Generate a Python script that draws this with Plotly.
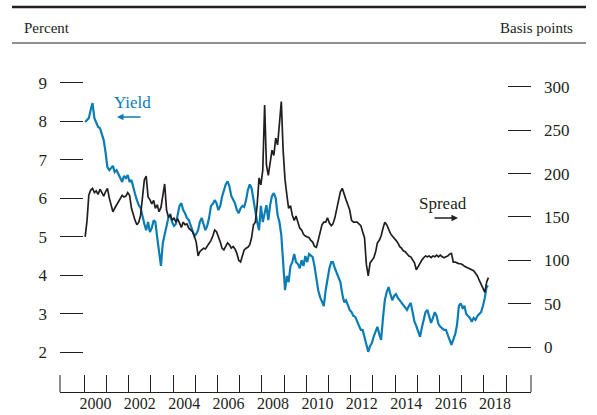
import pandas as pd
import plotly.graph_objects as go

# Monthly readings, January 2000 through March 2018
yield_pct = [
    7.98, 8.03, 8.08, 8.29, 8.47, 8.08, 7.98, 7.85, 7.82, 7.69, 7.51, 7.20,
    6.81, 6.73, 6.78, 6.84, 6.68, 6.73, 6.63, 6.52, 6.42, 6.58, 6.52, 6.60,
    6.42, 6.47, 6.26, 6.11, 5.95, 5.82, 5.75, 5.51, 5.33, 5.17, 5.38, 5.12,
    5.23, 5.43, 5.38, 4.97, 4.60, 4.24, 4.83, 5.07, 5.23, 5.49, 5.59, 5.38,
    5.28, 5.33, 5.56, 5.80, 5.87, 5.69, 5.61, 5.49, 5.43, 5.28, 5.17, 5.02,
    5.07, 5.17, 5.38, 5.49, 5.33, 5.17, 5.28, 5.49, 5.80, 5.85, 5.95, 5.87,
    5.69, 5.80, 6.03, 6.21, 6.36, 6.44, 6.31, 6.06, 5.95, 5.87, 5.69, 5.61,
    5.74, 5.80, 5.77, 5.95, 6.21, 6.36, 6.26, 5.95, 5.75, 5.38, 5.17, 5.80,
    5.38, 5.64, 5.82, 5.43, 5.82, 6.06, 6.13, 6.00, 5.56, 5.38, 5.04, 4.34,
    3.61, 3.98, 3.82, 4.24, 4.34, 4.55, 4.34, 4.29, 4.18, 4.39, 4.24, 4.50,
    4.34, 4.55, 4.50, 4.47, 4.24, 3.93, 3.61, 3.43, 3.30, 3.20, 3.61, 3.95,
    4.18, 4.34, 4.34, 4.18, 4.05, 3.93, 3.82, 3.51, 3.30, 3.35, 3.20, 3.10,
    3.04, 2.94, 2.92, 2.79, 2.68, 2.58, 2.58, 2.37, 2.16, 2.01, 2.16, 2.24,
    2.42, 2.58, 2.66, 2.47, 2.32, 2.89, 3.35, 3.56, 3.69, 3.51, 3.35, 3.46,
    3.51, 3.41, 3.35, 3.28, 3.20, 3.15, 3.10, 3.20, 3.28, 3.04, 2.79, 2.68,
    2.53, 2.40, 2.63, 2.89, 3.04, 3.10, 2.89, 2.76, 2.89, 3.04, 2.94, 2.73,
    2.66, 2.63, 2.58, 2.58, 2.47, 2.32, 2.19, 2.32, 2.47, 2.71, 3.20, 3.27,
    3.15, 3.20, 2.99, 2.94, 2.89, 2.79, 2.89, 2.84, 2.94, 2.99, 3.04, 3.20,
    3.41, 3.72, 3.70,
]

spread_bp = [
    127, 146, 175, 181, 183, 178, 180, 176, 182, 178, 174, 179,
    183, 172, 164, 156, 160, 164, 167, 171, 175, 173, 174, 178,
    175, 160, 152, 146, 141, 144, 152, 175, 193, 197, 173, 170,
    165, 169, 160, 164, 156, 161, 172, 188, 158, 150, 152, 146,
    149, 144, 148, 142, 138, 144, 141, 142, 137, 135, 133, 128,
    121, 105, 110, 112, 114, 113, 116, 120, 123, 128, 135, 133,
    128, 121, 114, 112, 116, 120, 118, 114, 116, 113, 108, 100,
    98, 106, 112, 114, 115, 118, 126, 141, 144, 164, 195, 187,
    204, 279, 210, 198, 213, 227, 221, 241, 233, 256, 283, 227,
    193, 175, 160, 163, 152, 146, 151, 144, 137, 135, 130, 128,
    127, 126, 123, 121, 116, 115, 123, 133, 141, 144, 144, 149,
    143, 140, 142, 149, 160, 170, 179, 183, 175, 170, 164, 158,
    146, 144, 144, 144, 142, 140, 133, 126, 95, 82, 97, 100,
    103, 110, 120, 123, 128, 137, 144, 141, 135, 131, 128, 126,
    123, 120, 116, 114, 111, 110, 107, 105, 104, 100, 97, 89,
    93, 98, 100, 103, 105, 104, 105, 103, 105, 104, 106, 104,
    106, 104, 103, 104, 105, 107, 108, 98, 98, 97, 96, 96,
    95, 93, 92, 91, 90, 89, 88, 85, 82, 77, 73, 68,
    63, 75, 80,
]

year_ticks = [str(y) for y in range(2000, 2020)]
year_labels = [str(y) for y in range(2000, 2019, 2)]
percent_ticks = [2, 3, 4, 5, 6, 7, 8, 9]
bp_ticks = [0, 50, 100, 150, 200, 250, 300]

dates = pd.date_range("2000-01-01", periods=len(yield_pct), freq="MS") + pd.Timedelta(days=14)

BLUE = "#0b7db4"
INK = "#231f20"
FONT = "Liberation Serif, Times New Roman, serif"

W, H = 597, 415
L, R, T, B = 60, 531, 60, 392


def fx(px):
    return (px - L) / (R - L)


def fy(py):
    return (B - py) / (B - T)


fig = go.Figure()
fig.add_trace(go.Scatter(
    x=dates, y=yield_pct, mode="lines", name="Yield",
    line=dict(color=BLUE, width=2.2), hoverinfo="skip",
))
fig.add_trace(go.Scatter(
    x=dates, y=spread_bp, mode="lines", name="Spread", yaxis="y2",
    line=dict(color=INK, width=1.7), hoverinfo="skip",
))

fig.update_layout(
    width=W, height=H,
    margin=dict(l=L, r=W - R, t=T, b=H - B, pad=0),
    paper_bgcolor="white", plot_bgcolor="white",
    showlegend=False,
    font=dict(family=FONT, color=INK, size=17),
    xaxis=dict(
        type="date",
        range=["1998-11-27", "2020-02-14"],
        showgrid=False, zeroline=False, automargin=False,
        showline=True, linecolor=INK, linewidth=1,
        tickmode="array",
        tickvals=[f"{y}-07-02" for y in year_labels],
        ticktext=year_labels,
        ticks="", ticklabelstandoff=-3,
        tickfont=dict(size=16, family=FONT, color=INK),
        minor=dict(tickmode="array", tickvals=[f"{y}-01-01" for y in year_ticks],
                   ticks="inside", ticklen=17, tickwidth=1, tickcolor=INK,
                   showgrid=False),
    ),
    yaxis=dict(
        range=[0.966, 9.59],
        showgrid=False, zeroline=False, showline=False, automargin=False,
        tickmode="array", tickvals=percent_ticks,
        ticks="inside", ticklen=23, tickwidth=1, tickcolor=INK,
        ticklabelstandoff=12,
        tickfont=dict(size=17, family=FONT, color=INK),
    ),
    yaxis2=dict(
        overlaying="y", side="right",
        range=[-51.9, 331.0],
        showgrid=False, zeroline=False, showline=False, automargin=False,
        tickmode="array", tickvals=bp_ticks,
        ticks="inside", ticklen=23, tickwidth=1, tickcolor=INK,
        ticklabelstandoff=12,
        tickfont=dict(size=17, family=FONT, color=INK),
    ),
)

# Header rules and the end ticks of the date axis
fig.add_shape(type="line", xref="paper", yref="paper",
              x0=fx(12), x1=fx(586), y0=fy(7), y1=fy(7),
              line=dict(color=INK, width=2.5))
fig.add_shape(type="line", xref="paper", yref="paper",
              x0=fx(12), x1=fx(586), y0=fy(43), y1=fy(43),
              line=dict(color=INK, width=1))
for edge in (0, 1):
    fig.add_shape(type="line", xref="paper", yref="paper",
                  x0=edge, x1=edge, y0=0, y1=fy(B - 17),
                  line=dict(color=INK, width=1))

annotations = [
    dict(text="Percent", x=fx(22), y=fy(28), xanchor="left", yanchor="middle",
         font=dict(size=15, color=INK, family=FONT)),
    dict(text="Basis points", x=fx(575), y=fy(28), xanchor="right", yanchor="middle",
         font=dict(size=15, color=INK, family=FONT)),
    dict(text="Yield", x=fx(132), y=fy(102), xanchor="center", yanchor="middle",
         font=dict(size=17, color=BLUE, family=FONT)),
    dict(text="Spread", x=fx(443), y=fy(203), xanchor="center", yanchor="middle",
         font=dict(size=17, color=INK, family=FONT)),
    dict(text="", x=fx(117), y=fy(117), ax=25, ay=0, showarrow=True,
         arrowhead=2, arrowsize=1, arrowwidth=1.3, arrowcolor=BLUE),
    dict(text="", x=fx(458), y=fy(218), ax=-25, ay=0, showarrow=True,
         arrowhead=2, arrowsize=1, arrowwidth=1.3, arrowcolor=INK),
]
for a in annotations:
    a.setdefault("showarrow", False)
    a.update(xref="paper", yref="paper")
    fig.add_annotation(**a)

fig.write_html("out.html")
